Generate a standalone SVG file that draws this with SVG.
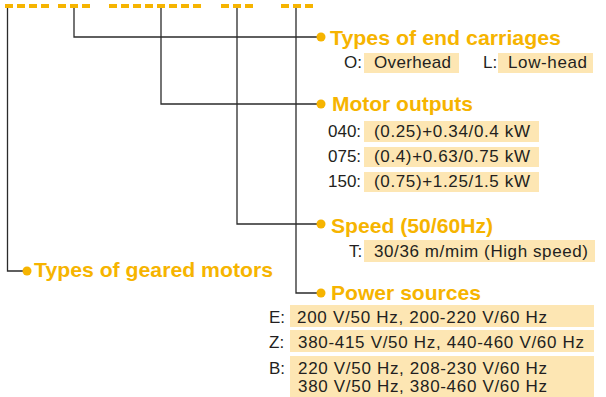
<svg xmlns="http://www.w3.org/2000/svg" width="606" height="397" viewBox="0 0 606 397">
<style>
.dash{fill:#F6B400}
.ln{fill:none;stroke:#2b2b2b;stroke-width:1.3}
.dot{fill:#F6B400}
.ttl{font-family:"Liberation Sans",Arial,sans-serif;font-weight:bold;font-size:21px;fill:#F6B400}
.lbl{font-family:"Liberation Sans",Arial,sans-serif;font-size:17px;fill:#231F20}
.hl{fill:#FDE6B3}
</style>
<rect width="606" height="397" fill="#ffffff"/>
<g id="code">
<rect class="dash" x="5" y="4" width="8" height="4"/><rect class="dash" x="17" y="4" width="8" height="4"/><rect class="dash" x="29" y="4" width="8" height="4"/><rect class="dash" x="41" y="4" width="8" height="4"/>
<rect class="dash" x="58" y="4" width="8" height="4"/><rect class="dash" x="70" y="4" width="8" height="4"/><rect class="dash" x="82" y="4" width="8" height="4"/>
<rect class="dash" x="109" y="4" width="8" height="4"/><rect class="dash" x="121" y="4" width="8" height="4"/><rect class="dash" x="133" y="4" width="8" height="4"/><rect class="dash" x="145" y="4" width="8" height="4"/><rect class="dash" x="157" y="4" width="8" height="4"/><rect class="dash" x="169" y="4" width="8" height="4"/><rect class="dash" x="181" y="4" width="8" height="4"/><rect class="dash" x="193" y="4" width="8" height="4"/>
<rect class="dash" x="221" y="4" width="8" height="4"/><rect class="dash" x="233" y="4" width="8" height="4"/><rect class="dash" x="245" y="4" width="8" height="4"/>
<rect class="dash" x="281" y="4" width="8" height="4"/><rect class="dash" x="293" y="4" width="8" height="4"/><rect class="dash" x="305" y="4" width="8" height="4"/>
</g>
<g id="connectors">
<polyline class="ln" points="7.5,8 7.5,271 27,271"/>
<polyline class="ln" points="74,8 74,37 321,37"/>
<polyline class="ln" points="161,8 161,104 321,104"/>
<polyline class="ln" points="237,8 237,224 321,224"/>
<polyline class="ln" points="296,8 296,293 321,293"/>
</g>
<g id="end-carriages">
<circle class="dot" cx="321" cy="37" r="4.5"/>
<text class="ttl" x="330" y="45" textLength="231" lengthAdjust="spacingAndGlyphs">Types of end carriages</text>
<rect class="hl" x="364" y="53" width="95" height="20"/>
<rect class="hl" x="498" y="53" width="95" height="20"/>
<text class="lbl" x="344" y="68">O:</text>
<text class="lbl" x="374" y="68" textLength="77">Overhead</text>
<text class="lbl" x="483" y="68">L:</text>
<text class="lbl" x="508" y="68" textLength="79">Low-head</text>
</g>
<g id="motor-outputs">
<circle class="dot" cx="321" cy="104" r="4.5"/>
<text class="ttl" x="332" y="111" textLength="141" lengthAdjust="spacingAndGlyphs">Motor outputs</text>
<rect class="hl" x="364" y="121" width="175" height="21"/>
<rect class="hl" x="364" y="147" width="175" height="20"/>
<rect class="hl" x="364" y="172" width="175" height="20"/>
<text class="lbl" x="328" y="137">040:</text>
<text class="lbl" x="374" y="137" textLength="156">(0.25)+0.34/0.4 kW</text>
<text class="lbl" x="328" y="162">075:</text>
<text class="lbl" x="374" y="162" textLength="156">(0.4)+0.63/0.75 kW</text>
<text class="lbl" x="328" y="187">150:</text>
<text class="lbl" x="374" y="187" textLength="156">(0.75)+1.25/1.5 kW</text>
</g>
<g id="speed">
<circle class="dot" cx="321" cy="224" r="4.5"/>
<text class="ttl" x="331" y="233" textLength="162" lengthAdjust="spacingAndGlyphs">Speed (50/60Hz)</text>
<rect class="hl" x="364" y="240" width="231" height="22"/>
<text class="lbl" x="349" y="257">T:</text>
<text class="lbl" x="374" y="257" textLength="214">30/36 m/mim (High speed)</text>
</g>
<g id="power-sources">
<circle class="dot" cx="321" cy="293" r="4.5"/>
<text class="ttl" x="331" y="300" textLength="150" lengthAdjust="spacingAndGlyphs">Power sources</text>
<rect class="hl" x="290" y="305" width="304" height="22"/>
<rect class="hl" x="290" y="330" width="304" height="22"/>
<rect class="hl" x="290" y="356" width="304" height="41"/>
<text class="lbl" x="269" y="323">E:</text>
<text class="lbl" x="297" y="323" textLength="250">200 V/50 Hz, 200-220 V/60 Hz</text>
<text class="lbl" x="269" y="348">Z:</text>
<text class="lbl" x="298" y="348" textLength="286">380-415 V/50 Hz, 440-460 V/60 Hz</text>
<text class="lbl" x="269" y="374">B:</text>
<text class="lbl" x="298" y="374" textLength="249">220 V/50 Hz, 208-230 V/60 Hz</text>
<text class="lbl" x="298" y="392" textLength="249">380 V/50 Hz, 380-460 V/60 Hz</text>
</g>
<g id="geared-motors">
<circle class="dot" cx="27" cy="271" r="4.5"/>
<text class="ttl" x="34" y="277" textLength="239" lengthAdjust="spacingAndGlyphs">Types of geared motors</text>
</g>
</svg>
